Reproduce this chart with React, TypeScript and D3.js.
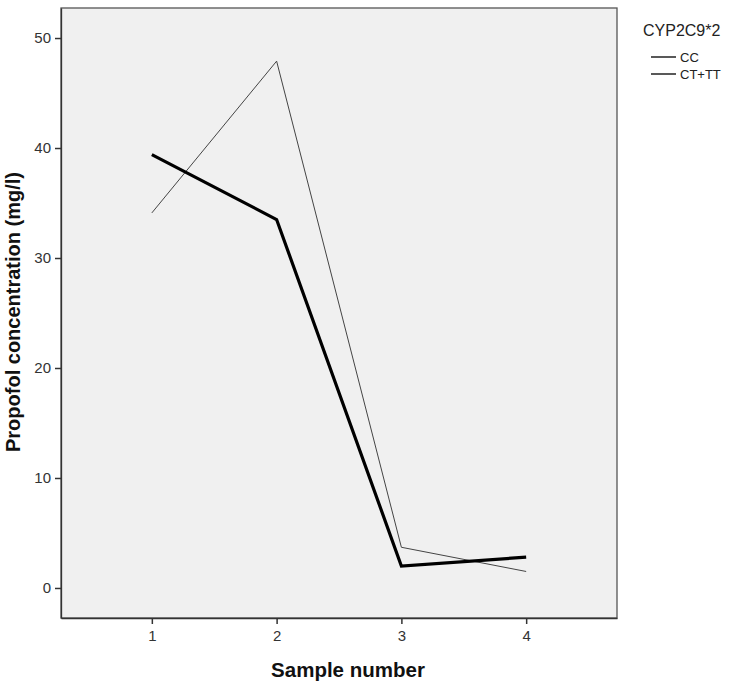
import { useEffect, useRef } from 'react';
import * as d3 from 'd3';

const samples = [1, 2, 3, 4];
const ccValues = [34.1, 47.9, 3.7, 1.5];
const ctttValues = [39.4, 33.5, 2.0, 2.8];
const yTicks = [0, 10, 20, 30, 40, 50];
const seriesNames = ['CC', 'CT+TT'];
const legendTitle = 'CYP2C9*2';

const W = 735;
const H = 686;

export default function App() {
  const svgRef = useRef<SVGSVGElement>(null);

  useEffect(() => {
    if (!svgRef.current) return;
    const svg = d3.select(svgRef.current);
    svg.selectAll('*').remove();

    const plot = { left: 61, top: 8, right: 617, bottom: 618 };

    const x = d3.scaleLinear().domain([0.272, 4.728]).range([plot.left, plot.right]);
    const y = d3.scaleLinear().domain([-2.73, 52.73]).range([plot.bottom, plot.top]);

    // panel
    svg.append('rect')
      .attr('x', plot.left)
      .attr('y', plot.top)
      .attr('width', plot.right - plot.left)
      .attr('height', plot.bottom - plot.top)
      .attr('fill', '#f0f0f0')
      .attr('stroke', '#555')
      .attr('stroke-width', 1.3);

    const font = '"Liberation Sans", Arial, sans-serif';

    // y axis
    const yAxis = svg.append('g')
      .attr('transform', `translate(${plot.left},0)`)
      .call(d3.axisLeft(y).tickValues(yTicks).tickSize(6).tickSizeOuter(0).tickPadding(4));
    yAxis.select('.domain').attr('stroke', '#333').attr('stroke-width', 1.3);
    yAxis.selectAll('.tick line').attr('stroke', '#333').attr('stroke-width', 1.5);
    yAxis.selectAll('.tick text')
      .attr('fill', '#333')
      .style('font-family', font)
      .style('font-size', '15px');

    // x axis
    const xAxis = svg.append('g')
      .attr('transform', `translate(0,${plot.bottom})`)
      .call(d3.axisBottom(x).tickValues(samples).tickFormat(d3.format('d')).tickSize(6).tickSizeOuter(0).tickPadding(6));
    xAxis.select('.domain').attr('stroke', '#333').attr('stroke-width', 1.3);
    xAxis.selectAll('.tick line').attr('stroke', '#333').attr('stroke-width', 1.5);
    xAxis.selectAll('.tick text')
      .attr('fill', '#333')
      .style('font-family', font)
      .style('font-size', '15px');

    const line = d3.line<number>()
      .x((_, i) => x(samples[i]))
      .y(d => y(d));

    svg.append('path')
      .datum(ccValues)
      .attr('d', line)
      .attr('fill', 'none')
      .attr('stroke', '#444')
      .attr('stroke-width', 1);

    svg.append('path')
      .datum(ctttValues)
      .attr('d', line)
      .attr('fill', 'none')
      .attr('stroke', '#000')
      .attr('stroke-width', 3.2)
      .attr('stroke-linejoin', 'miter');

    // axis titles
    svg.append('text')
      .attr('x', 348)
      .attr('y', 677)
      .attr('text-anchor', 'middle')
      .style('font-family', font)
      .style('font-weight', 'bold')
      .style('font-size', '20.5px')
      .attr('fill', '#111')
      .text('Sample number');

    svg.append('text')
      .attr('transform', `translate(20,312) rotate(-90)`)
      .attr('text-anchor', 'middle')
      .style('font-family', font)
      .style('font-weight', 'bold')
      .style('font-size', '20px')
      .attr('fill', '#111')
      .text('Propofol concentration (mg/l)');

    // legend
    const lg = svg.append('g').attr('transform', 'translate(643,0)');
    lg.append('text')
      .attr('x', 0)
      .attr('y', 36)
      .style('font-family', font)
      .style('font-size', '16px')
      .attr('fill', '#222')
      .text(legendTitle);

    seriesNames.forEach((name, i) => {
      const yy = 57 + i * 17;
      lg.append('line')
        .attr('x1', 8).attr('x2', 33)
        .attr('y1', yy).attr('y2', yy)
        .attr('stroke', '#222')
        .attr('stroke-width', 1.5);
      lg.append('text')
        .attr('x', 37)
        .attr('y', yy + 5)
        .style('font-family', font)
        .style('font-size', '13px')
        .attr('fill', '#222')
        .text(name);
    });
  }, []);

  return (
    <svg
      ref={svgRef}
      width={W}
      height={H}
      style={{ position: 'absolute', left: 0, top: 0, background: '#fff' }}
    />
  );
}
